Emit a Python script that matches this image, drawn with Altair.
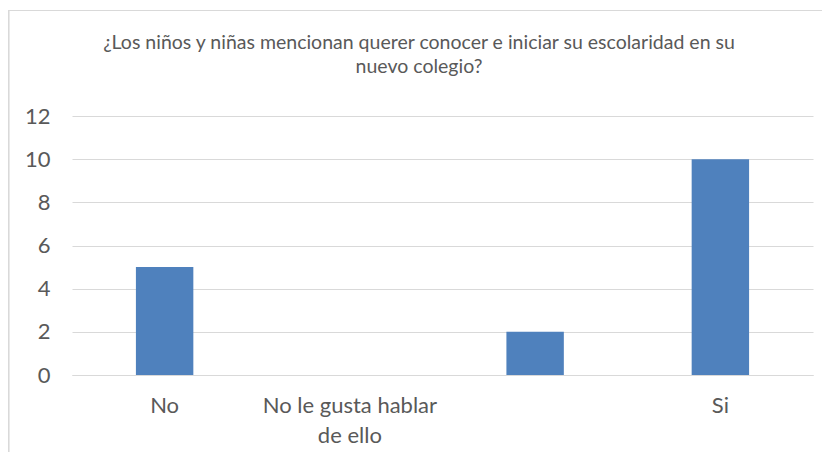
import altair as alt
import pandas as pd

categories = ["No", "No le gusta hablar de ello", " ", "Si"]
values = [5, 0, 2, 10]
title_lines = ["¿Los niños y niñas mencionan querer conocer e iniciar su escolaridad en su",
               "nuevo colegio?"]
y_ticks = [0, 2, 4, 6, 8, 10, 12]

df = pd.DataFrame({"cat": categories, "val": values})

FONT = "Lato"
GRAY = "#595959"
LINE = "#d9d9d9"

W, H = 741, 259

bars = alt.Chart(df).mark_bar(color="#4f81bd").encode(
    x=alt.X("cat:N", sort=categories,
            scale=alt.Scale(paddingInner=0.69, paddingOuter=0.345),
            axis=alt.Axis(title=None, labelAngle=0, ticks=False,
                          domainColor=LINE, domainWidth=1,
                          labelColor=GRAY, labelFont=FONT, labelFontSize=22,
                          labelPadding=20, labelLineHeight=30, labelLimit=0,
                          labelExpr="datum.label == 'No le gusta hablar de ello' ? ['No le gusta hablar', 'de ello'] : datum.label")),
    y=alt.Y("val:Q", scale=alt.Scale(domain=[0, 12]),
            axis=alt.Axis(title=None, values=y_ticks, ticks=False, domain=False,
                          gridColor=LINE, gridWidth=1,
                          labelColor=GRAY, labelFont=FONT, labelFontSize=22,
                          labelPadding=22)),
)

frame_left = alt.Chart(df).mark_rule(color=LINE, strokeWidth=1.2).encode(
    x=alt.value(-63.4), y=alt.value(-105.5), y2=alt.value(H + 100))
frame_top = alt.Chart(df).mark_rule(color=LINE, strokeWidth=1.2).encode(
    x=alt.value(-64), x2=alt.value(W + 40), y=alt.value(-105.5))

chart = alt.layer(frame_left, frame_top, bars).properties(
    width=W, height=H,
    title=alt.TitleParams(title_lines, anchor="middle", dx=-23.5, offset=-67.5,
                          font=FONT, fontSize=19.5, fontWeight="normal",
                          color=GRAY, lineHeight=24),
    autosize=alt.AutoSizeParams(type="none"),
    padding={"left": 64, "top": 108, "right": 9, "bottom": 77},
).configure_view(stroke=None)

chart.save("out.html", embed_options={"renderer": "svg", "actions": False})
